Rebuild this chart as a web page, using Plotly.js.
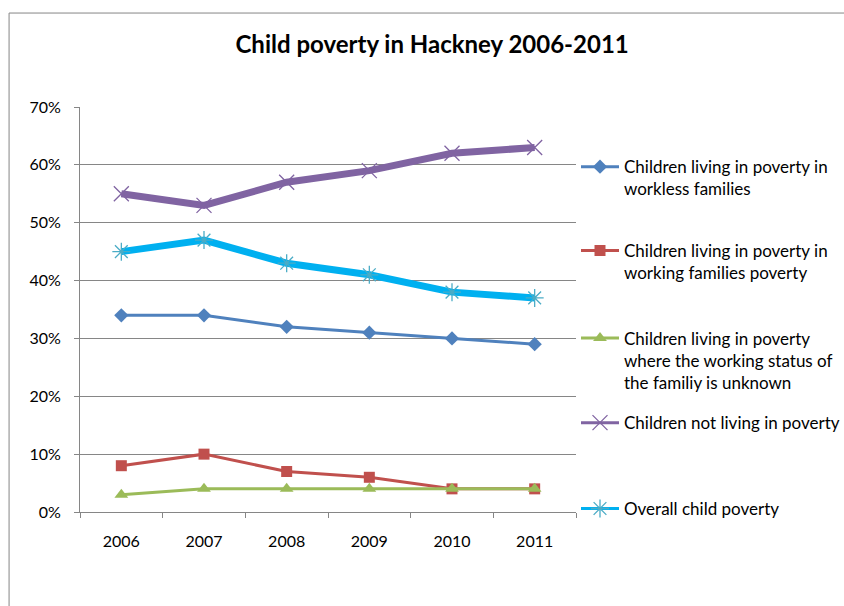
<!DOCTYPE html>
<html>
<head>
<meta charset="utf-8">
<script src="https://cdn.plot.ly/plotly-3.0.1.min.js"></script>
<style>html,body{margin:0;padding:0;background:#fff;}#chart{width:844px;height:606px;}</style>
</head>
<body>
<div id="chart"></div>
<script>
const years = ['2006','2007','2008','2009','2010','2011'];
const workless = [0.34, 0.34, 0.32, 0.31, 0.30, 0.29];
const working = [0.08, 0.10, 0.07, 0.06, 0.04, 0.04];
const unknownStatus = [0.03, 0.04, 0.04, 0.04, 0.04, 0.04];
const notInPoverty = [0.55, 0.53, 0.57, 0.59, 0.62, 0.63];
const overall = [0.45, 0.47, 0.43, 0.41, 0.38, 0.37];
const names = [
  'Children living in poverty in<br>workless families',
  'Children living in poverty in<br>working families poverty',
  'Children living in poverty<br>where the working status of<br>the familiy is unknown',
  'Children not living in poverty',
  'Overall child poverty'
];
const FONT = 'Lato, "Liberation Sans", sans-serif';

const traces = [
  {x: years, y: workless, name: names[0], mode: 'lines+markers', legend: 'legend',
   line: {color: '#4F81BD', width: 3}, marker: {symbol: 'diamond', size: 11, color: '#4F81BD'}},
  {x: years, y: working, name: names[1], mode: 'lines+markers', legend: 'legend2',
   line: {color: '#C0504D', width: 3}, marker: {symbol: 'square', size: 11, color: '#C0504D'}},
  {x: years, y: unknownStatus, name: names[2], mode: 'lines+markers', legend: 'legend3',
   line: {color: '#9BBB59', width: 3}, marker: {symbol: 'triangle-up', size: 12, color: '#9BBB59'}},
  {x: years, y: notInPoverty, mode: 'lines', showlegend: false, hoverinfo: 'skip',
   line: {color: '#8064A2', width: 7}},
  {x: years, y: notInPoverty, name: names[3], mode: 'lines+markers', legend: 'legend4',
   line: {color: '#8064A2', width: 3},
   marker: {symbol: 'x-thin-open', size: 15, color: '#8064A2', line: {color: '#8064A2', width: 1.3}}},
  {x: years, y: overall, mode: 'lines', showlegend: false, hoverinfo: 'skip',
   line: {color: '#00B0F0', width: 7}},
  {x: years, y: overall, name: names[4], mode: 'lines+markers', legend: 'legend5',
   line: {color: '#00B0F0', width: 3},
   marker: {symbol: 'asterisk-open', size: 15, color: '#4BACC6', line: {color: '#4BACC6', width: 1.3}}}
];

function lg(y) {
  return {x: 1.0, xanchor: 'left', y: y, yanchor: 'top', valign: 'top',
          itemwidth: 38,
          bgcolor: 'rgba(0,0,0,0)', borderwidth: 0,
          font: {family: FONT, size: 17, color: '#000'}};
}

const layout = {
  width: 844, height: 606,
  margin: {l: 80, r: 268, t: 107, b: 94, autoexpand: false},
  paper_bgcolor: '#fff', plot_bgcolor: '#fff',
  font: {family: FONT, size: 16, color: '#000'},
  title: {text: '<b>Child poverty in Hackney 2006-2011</b>', x: 0.512, xref: 'container',
          xanchor: 'center', y: 0.926, yref: 'container', yanchor: 'middle',
          font: {family: FONT, size: 24, color: '#000'}},
  xaxis: {type: 'category', range: [-0.5, 5.5], autorange: false,
          tickson: 'boundaries', ticks: 'outside', ticklen: 5,
          tickcolor: '#868686', showline: true, linecolor: '#868686', linewidth: 1,
          showgrid: false, zeroline: false, ticklabelstandoff: 15,
          tickfont: {family: FONT, size: 16, color: '#000'}},
  yaxis: {range: [0, 0.7], autorange: false, dtick: 0.1, tickformat: '.0%', ticks: 'outside', ticklen: 5,
          tickcolor: '#868686', showline: true, linecolor: '#868686', linewidth: 1,
          showgrid: true, gridcolor: '#868686', gridwidth: 1, zeroline: false,
          ticklabelstandoff: 10,
          tickfont: {family: FONT, size: 16, color: '#000'}},
  legend: lg(0.896),
  legend2: lg(0.689),
  legend3: lg(0.473),
  legend4: lg(0.264),
  legend5: lg(0.052),
  shapes: [
    {type: 'line', xref: 'paper', yref: 'paper', x0: -0.143, x1: 1.8, y0: 1.232, y1: 1.232,
     line: {color: '#868686', width: 1}, layer: 'below'},
    {type: 'line', xref: 'paper', yref: 'paper', x0: -0.143, x1: -0.143, y0: -0.4, y1: 1.232,
     line: {color: '#868686', width: 1}, layer: 'below'}
  ],
  showlegend: true
};

Plotly.newPlot('chart', traces, layout, {displayModeBar: false, staticPlot: true});
</script>
</body>
</html>
